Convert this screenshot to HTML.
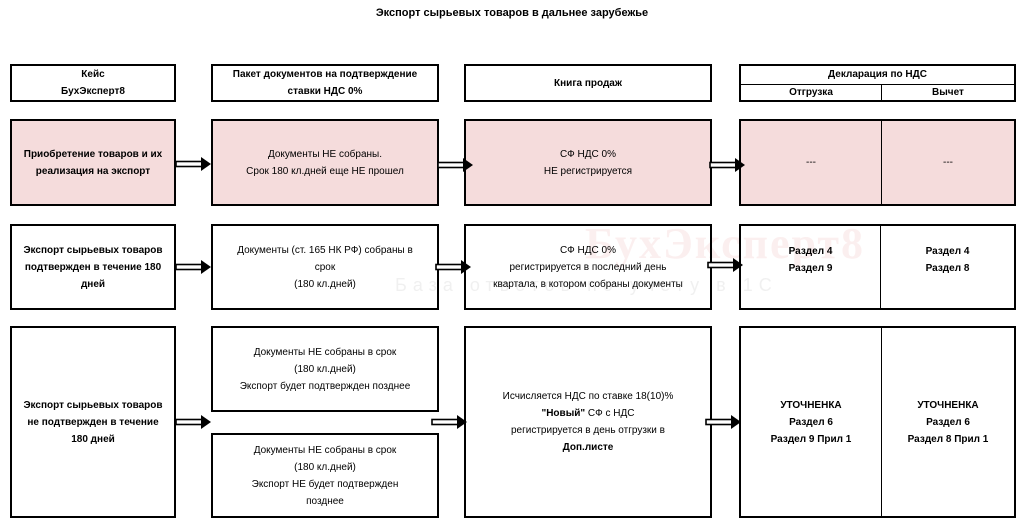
<!DOCTYPE html>
<html><head><meta charset="utf-8"><style>
body{margin:0;width:1024px;height:525px;background:#fff;position:relative;overflow:hidden;font-family:"Liberation Sans","DejaVu Sans",sans-serif;color:#000}
.b{position:absolute;box-sizing:border-box;border:2px solid #000;display:flex;align-items:center;justify-content:center;text-align:center;font-size:10px;line-height:17px}
.p{background:#f5dcdc}
.bold{font-weight:bold}
.t{position:absolute;font-size:11px;font-weight:bold;left:0;width:1024px;text-align:center;top:7px}
.wm{position:absolute;left:585px;top:218px;font-family:"Liberation Serif",serif;font-size:44px;color:rgba(220,120,120,0.12);font-weight:bold;letter-spacing:2px}
.wm2{position:absolute;left:395px;top:275px;font-size:18px;color:rgba(180,180,180,0.2);letter-spacing:6px}
</style></head><body>
<div class="t">Экспорт сырьевых товаров в дальнее зарубежье</div>

<div class="b bold" style="left:10px;top:64px;width:166px;height:38px">Кейс<br>БухЭксперт8</div>
<div class="b bold" style="left:211px;top:64px;width:228px;height:38px">Пакет документов на подтверждение<br>ставки НДС 0%</div>
<div class="b bold" style="left:464px;top:64px;width:248px;height:38px">Книга продаж</div>
<div class="b bold" style="left:739px;top:64px;width:277px;height:38px;display:block">
<div style="height:18px;line-height:18px;border-bottom:1px solid #000">Декларация по НДС</div>
<div style="display:flex;height:16px;line-height:16px"><div style="width:140px;border-right:1px solid #000">Отгрузка</div><div style="flex:1">Вычет</div></div></div>

<div class="b p bold" style="left:10px;top:119px;width:166px;height:87px">Приобретение товаров и их<br>реализация на экспорт</div>
<div class="b p" style="left:211px;top:119px;width:228px;height:87px">Документы НЕ собраны.<br>Срок 180 кл.дней еще НЕ прошел</div>
<div class="b p" style="left:464px;top:119px;width:248px;height:87px">СФ НДС 0%<br>НЕ регистрируется</div>
<div class="b p" style="left:739px;top:119px;width:277px;height:87px;justify-content:flex-start"><div style="width:140px;height:100%;border-right:1px solid #000;display:flex;align-items:center;justify-content:center">---</div><div style="flex:1">---</div></div>

<div class="wm">БухЭксперт8</div>
<div class="wm2">База ответов по учету в 1С</div>

<div class="b bold" style="left:10px;top:224px;width:166px;height:86px">Экспорт сырьевых товаров<br>подтвержден в течение 180<br>дней</div>
<div class="b" style="left:211px;top:224px;width:228px;height:86px">Документы (ст. 165 НК РФ) собраны в<br>срок<br>(180 кл.дней)</div>
<div class="b" style="left:464px;top:224px;width:248px;height:86px">СФ НДС 0%<br>регистрируется в последний день<br>квартала, в котором собраны документы</div>
<div class="b bold" style="left:739px;top:224px;width:277px;height:86px;justify-content:flex-start"><div style="width:140px;height:100%;border-right:1px solid #000;display:flex;align-items:center;justify-content:center;padding-bottom:14px;box-sizing:border-box">Раздел 4<br>Раздел 9</div><div style="flex:1;padding-bottom:14px">Раздел 4<br>Раздел 8</div></div>

<div class="b bold" style="left:10px;top:326px;width:166px;height:192px">Экспорт сырьевых товаров<br>не подтвержден в течение<br>180 дней</div>
<div class="b" style="left:211px;top:326px;width:228px;height:86px">Документы НЕ собраны в срок<br>(180 кл.дней)<br>Экспорт будет подтвержден позднее</div>
<div class="b" style="left:211px;top:433px;width:228px;height:85px">Документы НЕ собраны в срок<br>(180 кл.дней)<br>Экспорт НЕ будет подтвержден<br>позднее</div>
<div class="b" style="left:464px;top:326px;width:248px;height:192px"><div>Исчисляется НДС по ставке 18(10)%<br><b>"Новый"</b> СФ с НДС<br>регистрируется в день отгрузки в<br><b>Доп.листе</b></div></div>
<div class="b bold" style="left:739px;top:326px;width:277px;height:192px;justify-content:flex-start"><div style="width:140px;height:100%;border-right:1px solid #000;display:flex;align-items:center;justify-content:center">УТОЧНЕНКА<br>Раздел 6<br>Раздел 9 Прил 1</div><div style="flex:1">УТОЧНЕНКА<br>Раздел 6<br>Раздел 8 Прил 1</div></div>

<svg width="1024" height="525" style="position:absolute;left:0;top:0" xmlns="http://www.w3.org/2000/svg">
<defs><g id="ar"><rect x="0" y="-2.5" width="26" height="5" fill="#fff" stroke="#000" stroke-width="1.6"/><polygon points="25,-7 35,0 25,7" fill="#000"/></g></defs>
<use href="#ar" transform="translate(176,164)"/>
<use href="#ar" transform="translate(438,165)"/>
<use href="#ar" transform="translate(710,165)" />
<use href="#ar" transform="translate(176,267)"/>
<use href="#ar" transform="translate(436,267)"/>
<use href="#ar" transform="translate(708,265)"/>
<use href="#ar" transform="translate(176,422)"/>
<use href="#ar" transform="translate(432,422)"/>
<use href="#ar" transform="translate(706,422)"/>
</svg>
</body></html>
